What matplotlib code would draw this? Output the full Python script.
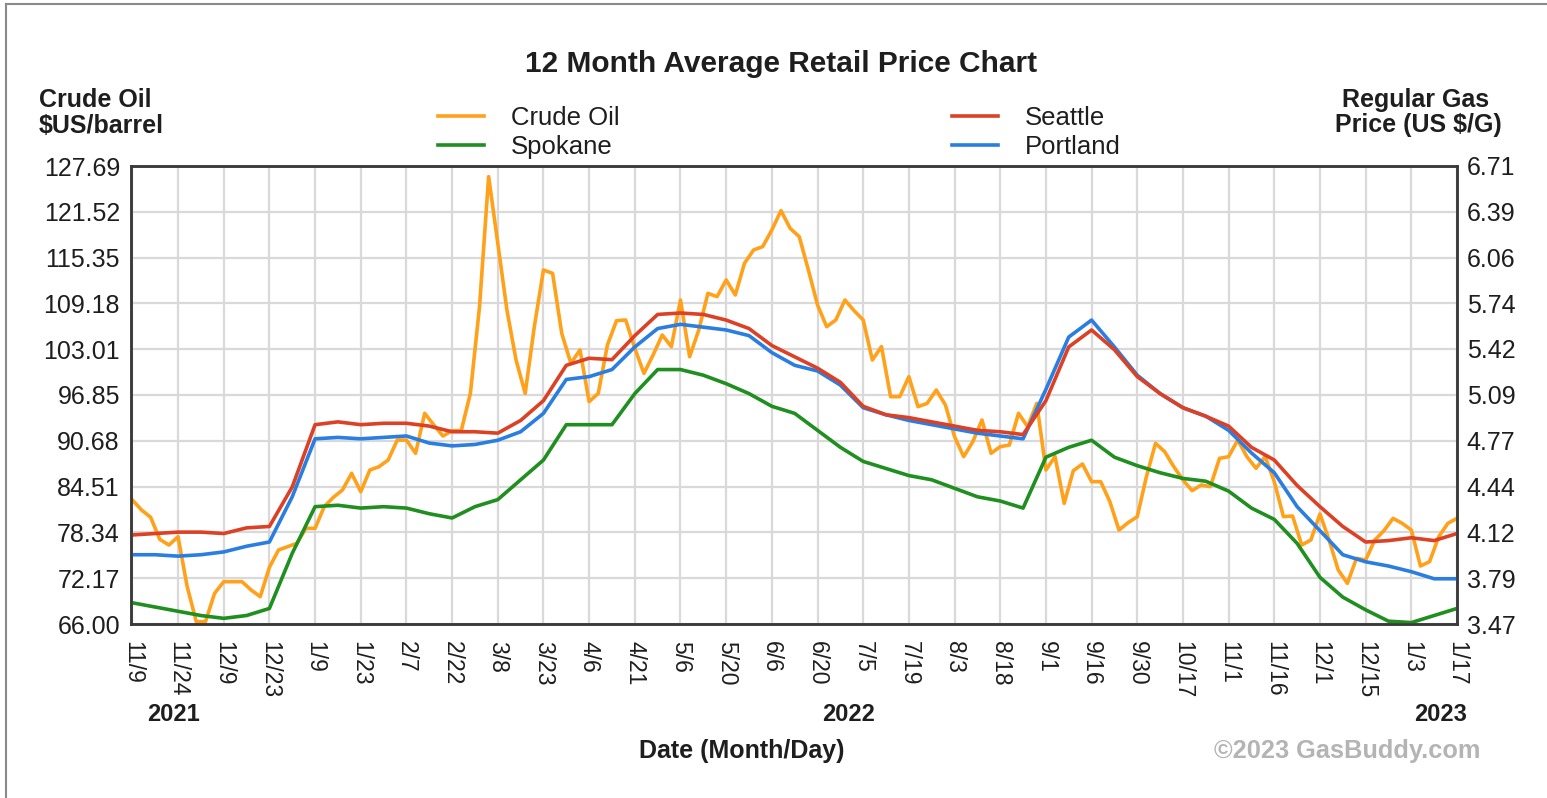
import numpy as np
import matplotlib.pyplot as plt
from matplotlib.lines import Line2D

plt.rcParams["font.family"] = ["Liberation Sans", "DejaVu Sans"]

# Axis labels along the bottom (evenly spaced, about every two weeks)
date_labels = ["11/9", "11/24", "12/9", "12/23", "1/9", "1/23", "2/7", "2/22", "3/8", "3/23",
               "4/6", "4/21", "5/6", "5/20", "6/6", "6/20", "7/5", "7/19", "8/3", "8/18",
               "9/1", "9/16", "9/30", "10/17", "11/1", "11/16", "12/1", "12/15", "1/3", "1/17"]
year_labels = ["2021", "2022", "2023"]

crude_ticks = [66.00, 72.17, 78.34, 84.51, 90.68, 96.85, 103.01, 109.18, 115.35, 121.52, 127.69]
gas_ticks = [3.47, 3.79, 4.12, 4.44, 4.77, 5.09, 5.42, 5.74, 6.06, 6.39, 6.71]

# Crude oil $US/barrel, 5 readings per label step
crude_oil = [
    82.70, 81.36, 80.37, 77.40, 76.64,
    77.76, 71.03, 66.31, 66.31, 70.13,
    71.70, 71.70, 71.70, 70.58, 69.68,
    73.63, 75.97, 76.42, 76.86, 78.89,
    78.89, 81.80, 83.06, 84.05, 86.29,
    83.82, 86.74, 87.19, 88.09, 90.78,
    90.78, 88.99, 94.38, 92.80, 91.32,
    92.04, 92.04, 97.07, 108.74, 126.26,
    117.28, 108.30, 101.56, 97.07, 106.05,
    113.68, 113.23, 105.15, 101.11, 102.91,
    95.95, 97.07, 103.58, 106.86, 106.95,
    103.13, 99.76, 102.23, 104.93, 103.36,
    109.64, 102.00, 105.60, 110.54, 110.09,
    112.34, 110.32, 114.58, 116.38, 116.83,
    119.07, 121.68, 119.30, 118.17, 113.68,
    108.97, 106.05, 106.95, 109.64, 108.20,
    106.95, 101.56, 103.36, 96.62, 96.62,
    99.31, 95.27, 95.72, 97.52, 95.50,
    91.23, 88.54, 90.56, 93.48, 88.99,
    89.89, 90.11, 94.38, 92.58, 95.72,
    86.74, 88.54, 82.25, 86.65, 87.55,
    85.17, 85.17, 82.48, 78.66, 79.65,
    80.46, 85.85, 90.34, 89.21, 87.19,
    85.40, 83.96, 84.72, 84.50, 88.31,
    88.54, 90.78, 88.54, 86.97, 88.54,
    85.17, 80.46, 80.55, 76.64, 77.31,
    80.82, 77.31, 73.27, 71.48, 74.85,
    74.62, 77.31, 78.57, 80.23, 79.56,
    78.66, 73.81, 74.40, 77.76, 79.56,
    80.23,
]

# Regular gas US $/G, 2 readings per label step
seattle = [
    4.10, 4.11, 4.12, 4.12, 4.11, 4.15, 4.16, 4.44, 4.88, 4.90,
    4.88, 4.89, 4.89, 4.87, 4.83, 4.83, 4.82, 4.91, 5.05, 5.30,
    5.35, 5.34, 5.51, 5.66, 5.67, 5.66, 5.62, 5.56, 5.44, 5.36,
    5.28, 5.18, 5.01, 4.95, 4.93, 4.90, 4.87, 4.84, 4.83, 4.81,
    5.05, 5.43, 5.55, 5.41, 5.22, 5.10, 5.00, 4.94, 4.87, 4.72,
    4.63, 4.45, 4.30, 4.16, 4.05, 4.06, 4.08, 4.06, 4.11,
]
portland = [
    3.96, 3.96, 3.95, 3.96, 3.98, 4.02, 4.05, 4.37, 4.78, 4.79,
    4.78, 4.79, 4.80, 4.75, 4.73, 4.74, 4.77, 4.83, 4.96, 5.20,
    5.22, 5.27, 5.43, 5.56, 5.59, 5.57, 5.55, 5.51, 5.39, 5.30,
    5.26, 5.16, 5.00, 4.95, 4.91, 4.88, 4.85, 4.82, 4.80, 4.78,
    5.13, 5.50, 5.62, 5.43, 5.23, 5.10, 5.00, 4.94, 4.84, 4.68,
    4.54, 4.30, 4.13, 3.96, 3.91, 3.88, 3.84, 3.79, 3.79,
]
spokane = [
    3.62, 3.59, 3.56, 3.53, 3.51, 3.53, 3.58, 3.97, 4.30, 4.31,
    4.29, 4.30, 4.29, 4.25, 4.22, 4.30, 4.35, 4.49, 4.63, 4.88,
    4.88, 4.88, 5.10, 5.27, 5.27, 5.23, 5.17, 5.10, 5.01, 4.96,
    4.84, 4.72, 4.62, 4.57, 4.52, 4.49, 4.43, 4.37, 4.34, 4.29,
    4.65, 4.72, 4.77, 4.65, 4.59, 4.54, 4.50, 4.48, 4.41, 4.29,
    4.21, 4.04, 3.80, 3.66, 3.57, 3.49, 3.48, 3.53, 3.58,
]

c_crude = "#FFA11A"
c_spokane = "#1F8F1F"
c_seattle = "#DC4126"
c_portland = "#2A7DE1"
text_color = "#1E1E1E"

W, H = 1547, 798
fig = plt.figure(figsize=(W / 100, H / 100), dpi=100)
fig.patch.set_facecolor("white")


def fx(px):
    return px / W


def fy(py):
    return 1 - py / H


ax = fig.add_axes([fx(131), fy(624), fx(1457 - 131), (624 - 166) / H])
ax2 = ax.twinx()

t_crude = np.arange(len(crude_oil)) / 5
t_gas = np.arange(len(seattle)) / 2

lw = 2.6
h_crude, = ax.plot(t_crude, crude_oil, color=c_crude, lw=lw)
h_spokane, = ax2.plot(t_gas, spokane, color=c_spokane, lw=lw)
h_portland, = ax2.plot(t_gas, portland, color=c_portland, lw=lw)
h_seattle, = ax2.plot(t_gas, seattle, color=c_seattle, lw=lw)

ax.set_xlim(-0.03, len(date_labels) - 1)
ax.set_ylim(crude_ticks[0], crude_ticks[-1])
ax2.set_ylim(gas_ticks[0], gas_ticks[-1])

ax.set_xticks(range(len(date_labels)))
ax.set_xticklabels(date_labels, rotation=-90, fontsize=16.5, color=text_color,
                   ha="center", va="top")
ax.set_yticks(crude_ticks)
ax.set_yticklabels([f"{v:.2f}" for v in crude_ticks], fontsize=18, color=text_color)
ax2.set_yticks(gas_ticks)
ax2.set_yticklabels([f"{v:.2f}" for v in gas_ticks], fontsize=18, color=text_color)

ax.tick_params(axis="x", length=0, pad=12)
ax.tick_params(axis="y", length=0, pad=8)
ax2.tick_params(axis="y", length=0, pad=7)

ax.grid(True, color="#D9D9D9", lw=1.6)
ax.set_axisbelow(True)
for a in (ax, ax2):
    for s in a.spines.values():
        s.set_color("#3A3A3A")
        s.set_linewidth(1.8)

# Titles and axis captions
fig.text(fx(781), fy(72), "12 Month Average Retail Price Chart", ha="center", va="baseline",
         fontsize=21.5, fontweight="bold", color=text_color)
fig.text(fx(39), fy(107), "Crude Oil", ha="left", va="baseline",
         fontsize=18, fontweight="bold", color=text_color)
fig.text(fx(39), fy(133), r"\$US/barrel", ha="left", va="baseline",
         fontsize=18, fontweight="bold", color=text_color)
fig.text(fx(1416), fy(107), "Regular Gas", ha="center", va="baseline",
         fontsize=18, fontweight="bold", color=text_color)
fig.text(fx(1418), fy(132), r"Price (US \$/G)", ha="center", va="baseline",
         fontsize=18, fontweight="bold", color=text_color)

for label, x in zip(year_labels, [173, 849, 1441]):
    fig.text(fx(x), fy(721), label, ha="center", va="baseline",
             fontsize=17, fontweight="bold", color=text_color)

fig.text(fx(742), fy(758), "Date (Month/Day)", ha="center", va="baseline",
         fontsize=18, fontweight="bold", color=text_color)
fig.text(fx(1480), fy(758), "\u00a92023 GasBuddy.com", ha="right", va="baseline",
         fontsize=18.3, fontweight="bold", color="#B4B4B4")

# Legend in two separate blocks
leg_kw = dict(loc="upper left", frameon=False, fontsize=18.5, handlelength=1.8,
              handletextpad=1.05, labelspacing=0.2, borderpad=0, borderaxespad=0)
leg1 = fig.legend([h_crude, h_spokane], ["Crude Oil", "Spokane"],
                  bbox_to_anchor=(fx(438), fy(106)), **leg_kw)
leg2 = fig.legend([h_seattle, h_portland], ["Seattle", "Portland"],
                  bbox_to_anchor=(fx(952), fy(106)), **leg_kw)
for leg in (leg1, leg2):
    for txt in leg.get_texts():
        txt.set_color(text_color)

# Screenshot frame (top and left edges)
fig.add_artist(Line2D([fx(6), 1], [fy(4), fy(4)], color="#8A8A8A", lw=1.5))
fig.add_artist(Line2D([fx(6), fx(6)], [0, fy(4)], color="#8A8A8A", lw=1.5))

fig.savefig("out.png", dpi=100)
